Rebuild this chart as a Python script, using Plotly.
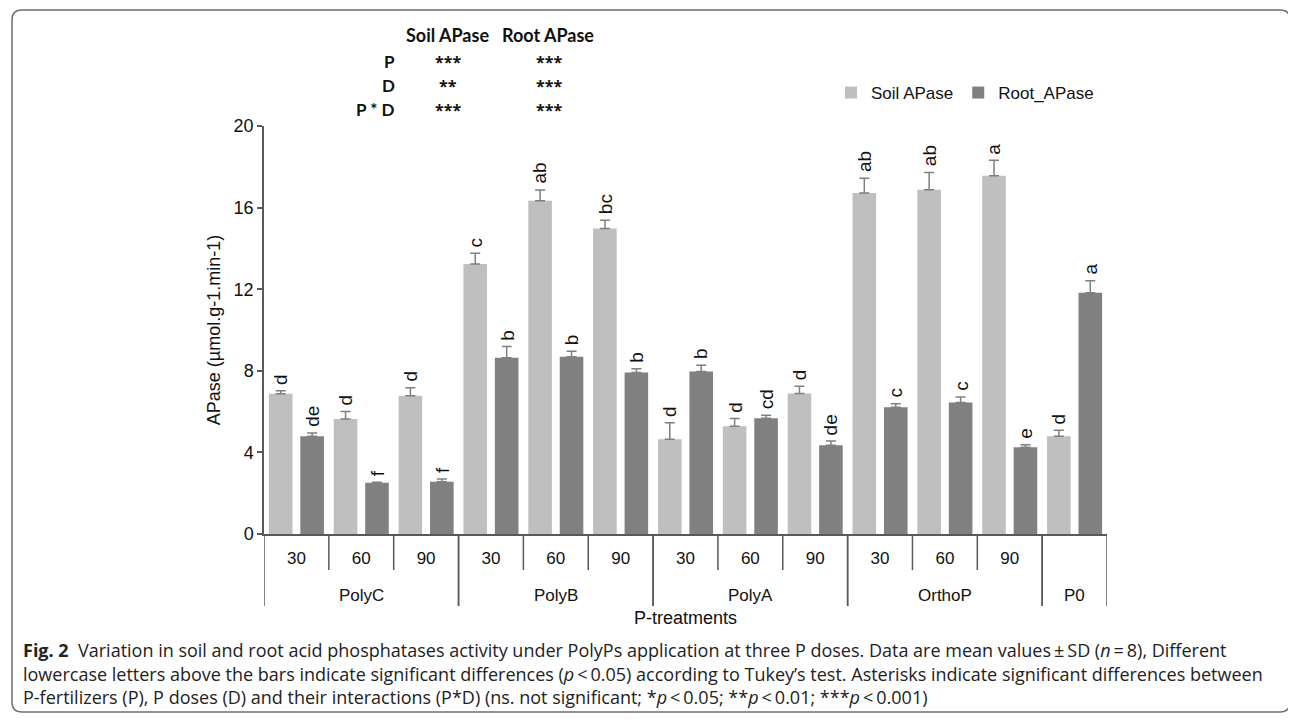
import plotly.graph_objects as go

# ---------------- data ----------------
groups = ["PolyC"] * 3 + ["PolyB"] * 3 + ["PolyA"] * 3 + ["OrthoP"] * 3 + ["P0"]
doses = ["30", "60", "90"] * 4 + [""]
group_names = ["PolyC", "PolyB", "PolyA", "OrthoP", "P0"]
soil = [6.87, 5.64, 6.78, 13.24, 16.33, 14.98, 4.65, 5.28, 6.89, 16.72, 16.87, 17.56, 4.79]
soil_sd = [0.15, 0.37, 0.39, 0.52, 0.53, 0.40, 0.80, 0.38, 0.35, 0.72, 0.85, 0.76, 0.30]
root = [4.79, 2.51, 2.56, 8.64, 8.69, 7.92, 7.97, 5.67, 4.35, 6.21, 6.45, 4.25, 11.83]
root_sd = [0.16, 0.03, 0.13, 0.55, 0.27, 0.18, 0.30, 0.15, 0.21, 0.18, 0.26, 0.13, 0.59]
soil_letters = ["d", "d", "d", "c", "ab", "bc", "d", "d", "d", "ab", "ab", "a", "d"]
root_letters = ["de", "f", "f", "b", "b", "b", "b", "cd", "de", "c", "c", "e", "a"]
stat_rows = ["P", "D", "P * D"]
stat_soil = ["***", "**", "***"]
stat_root = ["***", "***", "***"]

cats = [("%s %s" % (g, d)).strip() for g, d in zip(groups, doses)]

# ---------------- layout geometry ----------------
OFF = 8  # page body margin
W, H = 1288, 716
ML, MR, MT, MB = 256, 189, 118, 190
PW, PH = W - ML - MR, H - MT - MB


def px(x):
    """screen x -> paper"""
    return (x - OFF - ML) / PW


def py(y):
    """screen y -> paper"""
    return (H - MB - (y - OFF)) / PH


LIGHT = "#bfbfbf"
DARK = "#808080"
AXIS = "#595959"
FONT = "Liberation Sans, Arial, sans-serif"
TXT = "#111111"

fig = go.Figure()
fig.add_trace(go.Bar(
    name="Soil APase", x=cats, y=soil,
    marker=dict(color=LIGHT, line=dict(width=0)),
    error_y=dict(type="data", symmetric=False, array=soil_sd,
                 arrayminus=[0] * len(soil), color="#7f7f7f", thickness=1.5, width=5),
))
fig.add_trace(go.Bar(
    name="Root_APase", x=cats, y=root,
    marker=dict(color=DARK, line=dict(width=0)),
    error_y=dict(type="data", symmetric=False, array=root_sd,
                 arrayminus=[0] * len(root), color="#7f7f7f", thickness=1.5, width=5),
))

n = len(soil)
off = 0.243
annotations = []
for i in range(n):
    for val, sd, lab, o in ((soil[i], soil_sd[i], soil_letters[i], -off),
                            (root[i], root_sd[i], root_letters[i], off)):
        annotations.append(dict(
            x=i + o, xref="x", y=val + sd, yref="y",
            text=lab, textangle=-90, showarrow=False, xanchor="center",
            yanchor="bottom", yshift=4,
            font=dict(family=FONT, size=19, color=TXT)))

# group labels and separators of the category table
shapes = []
sep_inner = -36 / PH
sep_outer = -72 / PH
for gname in group_names:
    idx = [i for i, g in enumerate(groups) if g == gname]
    lo, hi = idx[0], idx[-1]
    annotations.append(dict(x=(lo + hi) / 2, xref="x", y=-61 / PH, yref="paper", text=gname,
                            showarrow=False, xanchor="center", yanchor="middle",
                            font=dict(family=FONT, size=17, color=TXT)))
    for b in range(lo, hi):
        shapes.append(dict(type="line", xref="x", yref="paper", x0=b + 0.5, x1=b + 0.5,
                           y0=0, y1=sep_inner, line=dict(color=AXIS, width=1.5)))
    for b in (lo - 0.5, hi + 0.5):
        shapes.append(dict(type="line", xref="x", yref="paper", x0=b, x1=b,
                           y0=0, y1=sep_outer, line=dict(color=AXIS, width=1.5)))

# statistics table
SFONT = "Lato, Open Sans, sans-serif"
annotations.append(dict(x=px(447), y=py(35), xref="paper", yref="paper", text="<b>Soil APase</b>",
                        showarrow=False, xanchor="center", yanchor="middle",
                        font=dict(family=SFONT, size=18, color=TXT)))
annotations.append(dict(x=px(548), y=py(35), xref="paper", yref="paper", text="<b>Root APase</b>",
                        showarrow=False, xanchor="center", yanchor="middle",
                        font=dict(family=SFONT, size=18, color=TXT)))
for k, (r, s1, s2) in enumerate(zip(stat_rows, stat_soil, stat_root)):
    yy = py(62 + 24 * k)
    annotations.append(dict(x=px(397), y=yy, xref="paper", yref="paper", text="<b>%s</b>" % r,
                            showarrow=False, xanchor="right", yanchor="middle",
                            font=dict(family=SFONT, size=17, color=TXT)))
    annotations.append(dict(x=px(448), y=yy, xref="paper", yref="paper", text="<b>%s</b>" % s1,
                            showarrow=False, xanchor="center", yanchor="middle",
                            font=dict(family="Open Sans, sans-serif", size=16, color=TXT)))
    annotations.append(dict(x=px(549), y=yy, xref="paper", yref="paper", text="<b>%s</b>" % s2,
                            showarrow=False, xanchor="center", yanchor="middle",
                            font=dict(family="Open Sans, sans-serif", size=16, color=TXT)))

# caption
CFONT = "Open Sans, Noto Sans, sans-serif"
cap_lines = [
    "<b>Fig. 2</b>  Variation in soil and root acid phosphatases activity under PolyPs application at three P doses. "
    "Data are mean values\u2009\u00b1\u2009SD (<i>n</i>\u2009=\u20098), Different",
    "lowercase letters above the bars indicate significant differences (<i>p</i>\u2009&lt;\u20090.05) according to "
    "Tukey\u2019s test. Asterisks indicate significant differences between",
    "P-fertilizers (P), P doses (D) and their interactions (P*D) (ns. not significant; *<i>p</i>\u2009&lt;\u20090.05; "
    "**<i>p</i>\u2009&lt;\u20090.01; ***<i>p</i>\u2009&lt;\u20090.001)",
]
for k, line in enumerate(cap_lines):
    annotations.append(dict(x=px(21), y=py(650 + 23.5 * k), xref="paper", yref="paper", text=line,
                            showarrow=False, xanchor="left", yanchor="middle",
                            font=dict(family=CFONT, size=18, color="#222222")))

# rounded frame
x0, x1, y0, y1, r = 12, 1290, 10, 712, 10
pts = [
    ("M", (x0 + r, y0)), ("L", (x1 - r, y0)), ("Q", (x1, y0), (x1, y0 + r)),
    ("L", (x1, y1 - r)), ("Q", (x1, y1), (x1 - r, y1)), ("L", (x0 + r, y1)),
    ("Q", (x0, y1), (x0, y1 - r)), ("L", (x0, y0 + r)), ("Q", (x0, y0), (x0 + r, y0)),
]
path = ""
for p in pts:
    coords = " ".join("%.5f,%.5f" % (px(a), py(b)) for a, b in p[1:])
    path += "%s %s " % (p[0], coords)
path += "Z"
shapes.append(dict(type="path", path=path, xref="paper", yref="paper",
                   line=dict(color="#6e6e6e", width=1.5), fillcolor="rgba(0,0,0,0)"))

fig.update_layout(
    width=W, height=H,
    margin=dict(l=ML, r=MR, t=MT, b=MB, pad=0),
    paper_bgcolor="white", plot_bgcolor="white",
    barmode="group", bargap=0.03, bargroupgap=0.25,
    font=dict(family=FONT, size=17, color=TXT),
    showlegend=True,
    legend=dict(orientation="h", x=px(965), y=py(93), xanchor="center", yanchor="middle",
                font=dict(family=FONT, size=17, color=TXT), itemwidth=30,
                bgcolor="rgba(0,0,0,0)"),
    annotations=annotations,
    shapes=shapes,
    xaxis=dict(type="category", categoryorder="array", categoryarray=cats,
               range=[-0.5, n - 0.5],
               tickmode="array", tickvals=cats, ticktext=doses,
               showline=True, linecolor=AXIS, linewidth=1.5, ticks="",
               ticklabelstandoff=8,
               tickfont=dict(family=FONT, size=17, color=TXT),
               title=dict(text="P-treatments", font=dict(family=FONT, size=18, color=TXT),
                          standoff=44),
               showgrid=False, zeroline=False),
    yaxis=dict(range=[0, 20], dtick=4, tick0=0, showline=True, linecolor=AXIS, linewidth=1.5,
               ticks="outside", ticklen=5, tickcolor=AXIS, tickwidth=1.5,
               tickfont=dict(family=FONT, size=18, color=TXT),
               title=dict(text="APase (\u00b5mol.g-1.min-1)", font=dict(family=FONT, size=18, color=TXT),
                          standoff=8),
               showgrid=False, zeroline=False),
)

fig.write_html("out.html")
